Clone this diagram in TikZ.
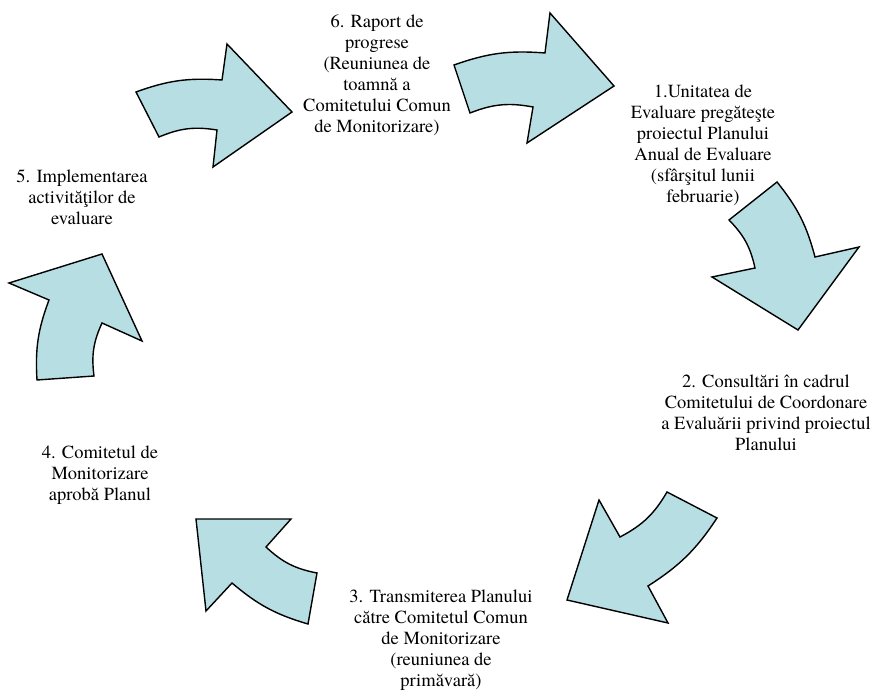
\documentclass[tikz,border=0pt]{standalone}
\usepackage{fontspec}
\setmainfont{texgyretermes}[Extension=.otf,UprightFont=*-regular,BoldFont=*-bold,ItalicFont=*-italic,BoldItalicFont=*-bolditalic]
\usepackage{tikz}
\definecolor{arrowfill}{RGB}{183,223,227}

\begin{document}
\begin{tikzpicture}[x=1pt,y=-1pt,
  blockarrow/.style={draw=black,fill=arrowfill,line width=1.4pt,line join=miter},
  steptext/.style={align=center,inner sep=0pt,font=\fontsize{18.5}{21}\selectfont}]
  \useasboundingbox (0,0) rectangle (873,692);

  \node[steptext] (s1) at (703,145) {1.Unitatea de\\Evaluare pregăteşte\\proiectul Planului\\Anual de Evaluare\\(sfârşitul lunii\\februarie)};
  \node[steptext] (s2) at (766,413) {2. Consultări în cadrul\\Comitetului de Coordonare\\a Evaluării privind proiectul\\Planului};
  \node[steptext] (s3) at (441,640) {3. Transmiterea Planului\\către Comitetul Comun\\de Monitorizare\\(reuniunea de\\primăvară)};
  \node[steptext] (s4) at (100,475) {4. Comitetul de\\Monitorizare\\aprobă Planul};
  \node[steptext] (s5) at (82,197) {5. Implementarea\\activităţilor de\\evaluare};
  \node[steptext] (s6) at (377,75) {6. Raport de\\progrese\\(Reuniunea de\\toamnă a\\Comitetului Comun\\de Monitorizare)};

  % curved block arrows, clockwise
  \draw[blockarrow] (136,92) to[bend left=12] (222,80) -- (227,44) -- (292,112) -- (213,167) -- (217,130) to[bend right=16] (159,137) -- cycle;
  \draw[blockarrow] (454,65) to[bend left=12] (545,53) -- (550,13) -- (614,86) -- (527,143) -- (533,107) to[bend right=16] (470,113) -- cycle;
  \draw[blockarrow] (729,220) -- (777,182) to[bend left=12] (815,257) -- (859,247) -- (798,330) -- (712,277) -- (755,268) to[bend right=16] cycle;
  \draw[blockarrow] (667,492) -- (717,518) to[bend left=12] (648,586) -- (668,623) -- (567,600) -- (599,500) -- (620,537) to[bend right=16] cycle;
  \draw[blockarrow] (317,573) -- (308,624) to[bend left=12] (232,583) -- (206,611) -- (196,519) -- (291,519) -- (266,547) to[bend right=16] cycle;
  \draw[blockarrow] (94,376) -- (37,380) to[bend left=12] (49,300) -- (9,283) -- (102,254) -- (142,341) -- (102,323) to[bend right=16] cycle;
\end{tikzpicture}
\end{document}
